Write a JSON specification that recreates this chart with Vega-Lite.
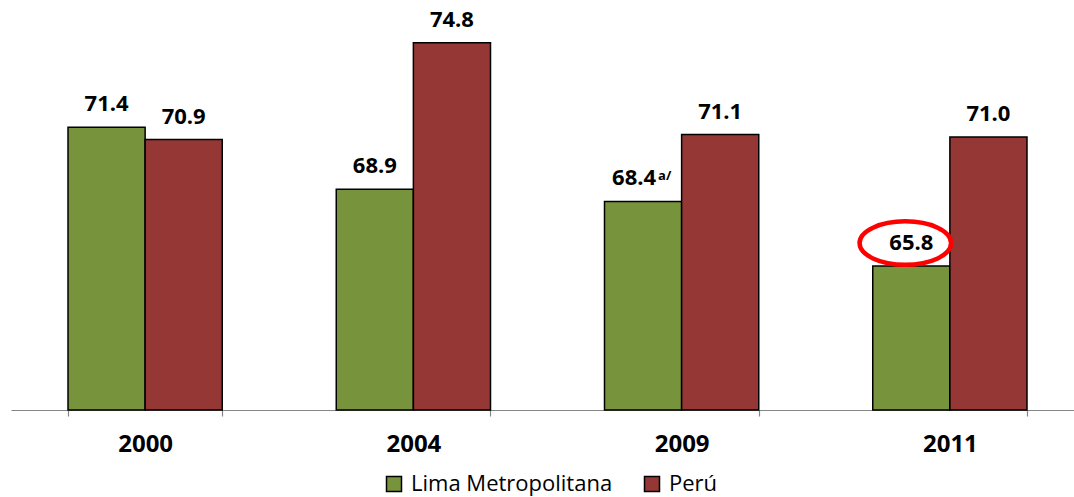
{
  "$schema": "https://vega.github.io/schema/vega-lite/v6.json",
  "width": 1063,
  "height": 397,
  "autosize": {"type": "none"},
  "padding": {"left": 11, "top": 13, "right": 0, "bottom": 87},
  "background": "white",
  "config": {"view": {"stroke": null}},
  "data": {
    "values": [
      {"year": "2000", "group": "Lima Metropolitana", "value": 71.4, "note": null, "highlight": false},
      {"year": "2000", "group": "Perú", "value": 70.9, "note": null, "highlight": false},
      {"year": "2004", "group": "Lima Metropolitana", "value": 68.9, "note": null, "highlight": false},
      {"year": "2004", "group": "Perú", "value": 74.8, "note": null, "highlight": false},
      {"year": "2009", "group": "Lima Metropolitana", "value": 68.4, "note": "a/", "highlight": false},
      {"year": "2009", "group": "Perú", "value": 71.1, "note": null, "highlight": false},
      {"year": "2011", "group": "Lima Metropolitana", "value": 65.8, "note": null, "highlight": true},
      {"year": "2011", "group": "Perú", "value": 71.0, "note": null, "highlight": false}
    ]
  },
  "encoding": {
    "x": {
      "field": "year",
      "type": "nominal",
      "title": null,
      "scale": {"range": [0, 1073], "paddingInner": 0.425, "paddingOuter": 0.2125},
      "axis": {
        "domainColor": "#868686",
        "domainWidth": 1.2,
        "tickColor": "#868686",
        "tickWidth": 1.2,
        "tickSize": 6,
        "tickBand": "extent",
        "labelAngle": 0,
        "labelFont": "Open Sans",
        "labelFontSize": 24,
        "labelFontWeight": "bold",
        "labelColor": "black",
        "labelPadding": 16,
        "grid": false
      }
    },
    "xOffset": {
      "field": "group",
      "type": "nominal",
      "sort": ["Lima Metropolitana", "Perú"],
      "scale": {"paddingInner": 0, "paddingOuter": 0}
    },
    "y": {
      "field": "value",
      "type": "quantitative",
      "scale": {"domain": [60, 76], "zero": false, "nice": false},
      "axis": null
    }
  },
  "layer": [
    {
      "mark": {"type": "bar", "stroke": "black", "strokeWidth": 1.5},
      "encoding": {
        "y2": {"datum": 60},
        "color": {
          "field": "group",
          "type": "nominal",
          "sort": ["Lima Metropolitana", "Perú"],
          "scale": {"domain": ["Lima Metropolitana", "Perú"], "range": ["#77933C", "#953735"]},
          "legend": {
            "orient": "none",
            "legendX": 372,
            "legendY": 460,
            "direction": "horizontal",
            "title": null,
            "padding": 0,
            "symbolType": "square",
            "symbolSize": 225,
            "symbolStrokeColor": "black",
            "symbolStrokeWidth": 1.5,
            "symbolOpacity": 1,
            "labelFont": "Open Sans",
            "labelFontSize": 22,
            "labelColor": "black",
            "labelOffset": 6,
            "labelLimit": 0,
            "columnPadding": 28
          }
        }
      }
    },
    {
      "transform": [{"filter": "datum.note == null"}],
      "mark": {"type": "text", "baseline": "alphabetic", "dy": -16, "font": "Open Sans", "fontSize": 22, "fontWeight": "bold", "color": "black"},
      "encoding": {"text": {"field": "value", "type": "quantitative", "format": ".1f"}}
    },
    {
      "transform": [{"filter": "datum.note != null"}],
      "mark": {"type": "text", "baseline": "alphabetic", "dy": -17, "dx": -9, "font": "Open Sans", "fontSize": 22, "fontWeight": "bold", "color": "black"},
      "encoding": {"text": {"field": "value", "type": "quantitative", "format": ".1f"}}
    },
    {
      "transform": [{"filter": "datum.note != null"}],
      "mark": {"type": "text", "baseline": "alphabetic", "align": "left", "dy": -22, "dx": 15, "font": "Open Sans", "fontSize": 13, "fontWeight": "bold", "color": "black"},
      "encoding": {"text": {"field": "note", "type": "nominal"}}
    },
    {
      "transform": [{"filter": "datum.highlight"}],
      "mark": {
        "type": "point",
        "shape": "M -1.131 -0.503 A 1 0.475 0 1 1 0.869 -0.503 A 1 0.475 0 1 1 -1.131 -0.503 Z",
        "size": 8372,
        "filled": false,
        "stroke": "#FF0000",
        "strokeWidth": 4.5,
        "opacity": 1
      }
    }
  ]
}
